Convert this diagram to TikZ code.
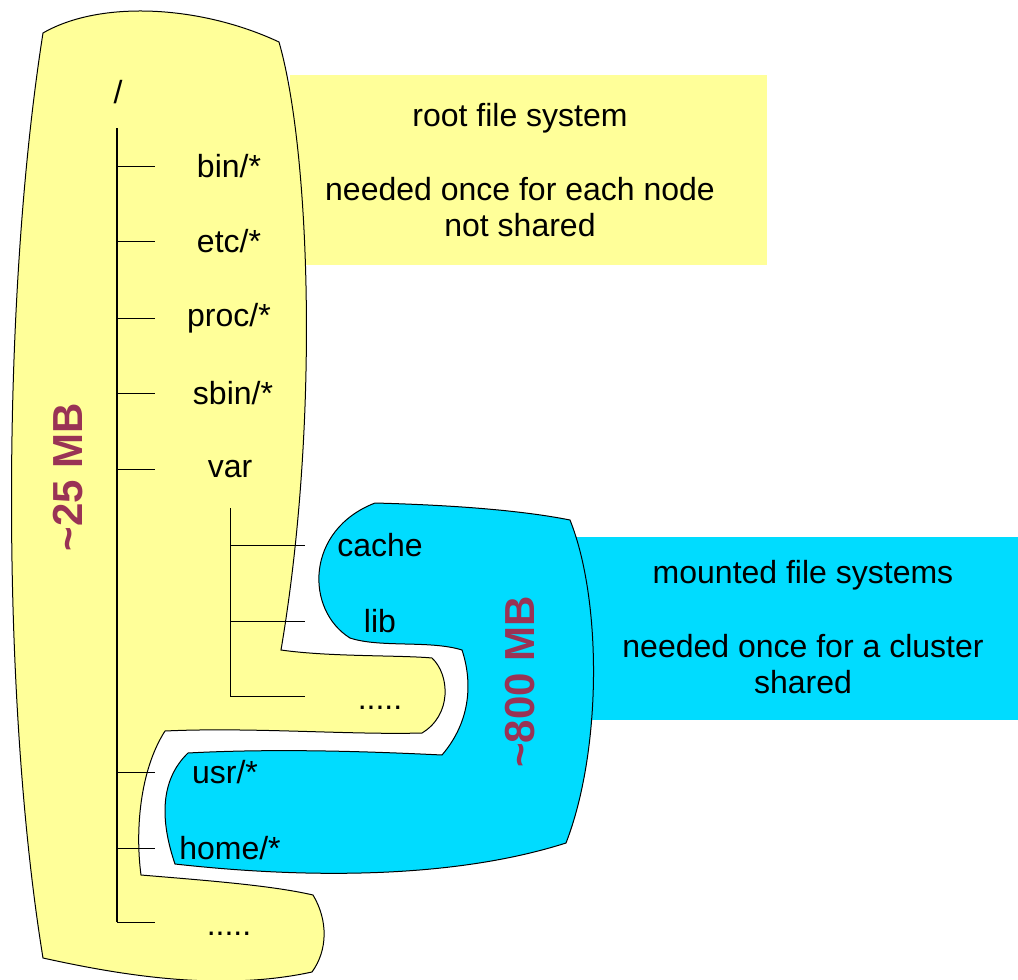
\documentclass[tikz,border=0pt]{standalone}
\usepackage{fontspec}
\setmainfont{Liberation Sans}
\usetikzlibrary{positioning}
\definecolor{rootyellow}{HTML}{FFFF99}
\definecolor{mountblue}{HTML}{00DCFF}
\definecolor{sizered}{HTML}{993355}

\begin{document}
\begin{tikzpicture}[x=0.5pt, y=-0.5pt,
    dir/.style={font=\fontsize{16}{18}\selectfont, inner sep=0pt},
    info/.style={font=\fontsize{16}{18}\selectfont, align=center, inner sep=0pt},
    size/.style={font=\fontsize{21}{25}\selectfont\bfseries, text=sizered,
                 rotate=90, inner sep=0pt},
    blob/.style={draw=black, line width=0.5pt},
    trunk/.style={line width=0.7pt},
    branch/.style={line width=0.4pt}
]
\useasboundingbox (0,0) rectangle (1018,980);

% boxes behind the blobs
\fill[rootyellow] (290,75) rectangle (767,265);
\fill[mountblue] (570,537) rectangle (1018,720);

% root file system blob
\path[blob, fill=rootyellow]
    (43,33) .. controls (100,0) and (200,5) .. (279,42)
    .. controls (310,150) and (320,420) .. (281,650)
    .. controls (330,657) and (400,655) .. (432,658)
    .. controls (450,675) and (452,715) .. (422,733)
    .. controls (350,735) and (250,727) .. (165,731)
    .. controls (140,770) and (135,830) .. (141,875)
    .. controls (200,880) and (270,885) .. (313,895)
    .. controls (328,920) and (328,950) .. (312,972)
    .. controls (220,992) and (120,975) .. (43,958)
    .. controls (1,700) and (1,300) .. (43,33) -- cycle;

% mounted file systems blob
\path[blob, fill=mountblue]
    (375,503) .. controls (450,505) and (520,510) .. (570,520)
    .. controls (602,600) and (602,750) .. (566,843)
    .. controls (450,880) and (300,878) .. (175,864)
    .. controls (160,820) and (160,780) .. (188,753)
    .. controls (280,748) and (380,752) .. (442,755)
    .. controls (472,720) and (472,680) .. (462,650)
    .. controls (430,640) and (380,648) .. (350,638)
    .. controls (305,610) and (305,530) .. (375,503) -- cycle;

% tree
\node[dir] (root) at (118,92) {/};
\coordinate (top) at (117,128);
\coordinate (bottom) at (117,922);
\draw[trunk] (top) -- (bottom);

\node[dir] (bin) at (229,166) {bin/*};
\node[dir] (etc) at (229,241) {etc/*};
\node[dir] (proc) at (229,318) {proc/*};
\node[dir] (sbin) at (233,393) {sbin/*};
\node[dir] (var) at (230,469) {var};
\node[dir] (usr) at (225,772) {usr/*};
\node[dir] (home) at (230,848) {home/*};
\node[dir] (rest) at (229,934) {.....};

\draw[branch] (top |- bin) -- (155,166);
\draw[branch] (top |- etc) -- (155,241);
\draw[branch] (top |- proc) -- (155,318);
\draw[branch] (top |- sbin) -- (155,393);
\draw[branch] (top |- var) -- (155,469);
\draw[branch] (top |- usr) -- (155,772);
\draw[branch] (top |- home) -- (155,848);
\draw[branch] (bottom) -- (155,922);

% var subtree
\coordinate (vtop) at (230,508);
\coordinate (vbottom) at (230,696);
\draw[branch] (vtop) -- (vbottom);
\node[dir] (cache) at (380,545) {cache};
\node[dir] (lib) at (380,621) {lib};
\node[dir] (vrest) at (380,708) {.....};
\draw[branch] (vtop |- cache) -- (305,545);
\draw[branch] (vtop |- lib) -- (305,621);
\draw[branch] (vbottom) -- (305,696);

% sizes
\node[size] (small) at (68,477) {\textasciitilde25 MB};
\node[size] (big) at (520,682) {\textasciitilde800 MB};

% explanations
\node[info] (rootfs) at (520,118) {root file system};
\node[info] (rootnote) at (520,207) {needed once for each node\\not shared};
\node[info] (mountfs) at (803,575) {mounted file systems};
\node[info] (mountnote) at (803,664) {needed once for a cluster\\shared};
\end{tikzpicture}
\end{document}
